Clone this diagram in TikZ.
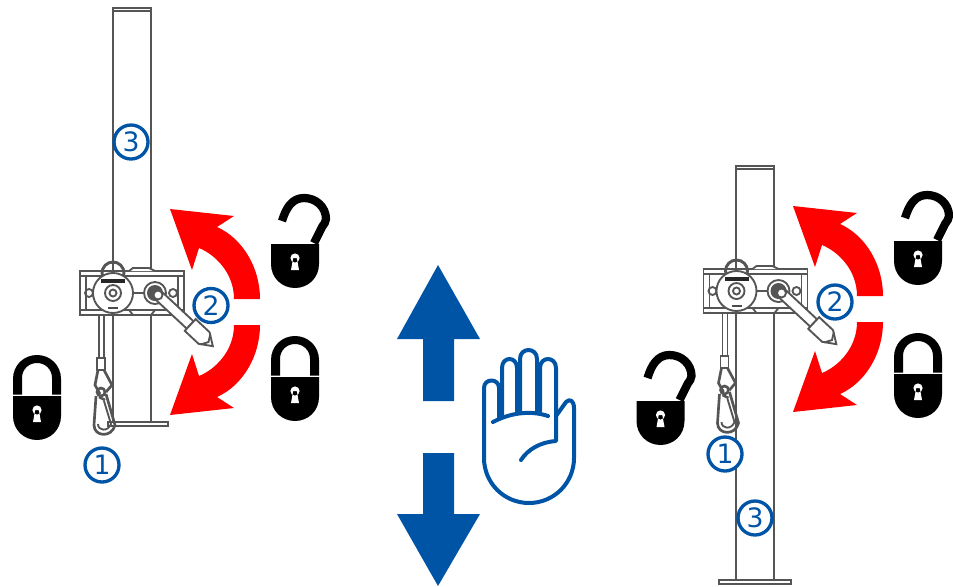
\documentclass[tikz,border=0pt]{standalone}
\usepackage{fontspec}
\setmainfont{DejaVu Sans}
\usepackage{xcolor}
\usepackage{tikz}
\definecolor{signblue}{RGB}{0,84,166}
\definecolor{steelgray}{RGB}{85,85,85}
\usetikzlibrary{positioning, arrows.meta}

\begin{document}
\begin{tikzpicture}[
    x=0.75pt, y=-0.75pt,
    steel/.style={draw=steelgray, line width=1.4pt},
    steelfill/.style={steel, fill=white},
    badge/.style={circle, draw=signblue, line width=2.5pt, fill=white, text=signblue, inner sep=0pt, minimum size=25.5pt, font=\fontsize{20}{20}\selectfont},
    handline/.style={draw=signblue, line width=3pt, line cap=round, line join=round},
    lockclosed/.pic={
        \fill[black, even odd rule] (-24,-1.5) -- (-24,-17) .. controls (-24,-31) and (-13,-41) .. (0,-41)
            .. controls (13,-41) and (24,-31) .. (24,-17) -- (24,-1.5) -- (15,-1.5) -- (15,-18)
            .. controls (15,-27) and (8,-33) .. (0,-33) .. controls (-8,-33) and (-15,-27) .. (-15,-18)
            -- (-15,-1.5) -- cycle;
        \fill[black] (-24,0) -- (24,0) -- (24,20) .. controls (24,34) and (13,44) .. (0,44)
            .. controls (-13,44) and (-24,34) .. (-24,20) -- cycle;
        \fill[white] (0,14) circle (4.6) (-1.8,14) -- (-4,26) -- (4,26) -- (1.8,14) -- cycle;
    },
    lockopen/.pic={
        \draw[black, line width=6.2pt] (19,-1) -- (27,-17) .. controls (29,-20) and (31,-22) .. (31,-25)
            .. controls (31,-37) and (21,-46) .. (9,-46) .. controls (-3,-46) and (-9,-36) .. (-13,-23);
        \fill[black] (-24,0) -- (24,0) -- (24,20) .. controls (24,34) and (13,44) .. (0,44)
            .. controls (-13,44) and (-24,34) .. (-24,20) -- cycle;
        \fill[white] (0,14) circle (4.6) (-1.8,14) -- (-4,26) -- (4,26) -- (1.8,14) -- cycle;
    },
    redturn/.pic={
        \foreach \flip in {1,-1} {
            \fill[red, yscale=\flip] (0,-13) .. controls (0,-45) and (-18,-74) .. (-43,-85) -- (-26,-96) -- (-90,-103)
                -- (-68,-42) -- (-61,-64) .. controls (-46,-58) and (-26,-40) .. (-26,-13) -- cycle;
        }
    },
    winchunit/.pic={
        % Cable and hook
        \draw[steel] (-14,20) -- (-14,65) (-9,20) -- (-9,65);
        \draw[steelfill] (-16,65) rectangle (-8,77);
        \draw[steel, line width=2pt] (-15,77) -- (-18,92) -- (-13,101) (-9,77) -- (-1,92) -- (-7,99);
        \draw[steel, line width=2pt] (-12,99) circle (4);
        \draw[steel, line width=2pt] (-17,103) -- (-19,132) .. controls (-19,144) and (-1,145) .. (2,132) -- (-7,101);
        \draw[steel] (-15,131) .. controls (-15,138) and (-5,139) .. (-2,131) -- (-9,108);
        \draw[steel, line width=2pt] (-14,104) -- (-8,107);
        % Bracket
        \draw[steelfill] (-33,-22) rectangle (71,22);
        \draw[steel] (-33,-17) -- (71,-17) (-33,17) -- (71,17);
        \draw[steel] (-27,-17) -- (-27,17) (65,-17) -- (65,17);
        \draw[steelfill] (16,-22) -- (20,-25) -- (36,-25) -- (42,-22);
        \draw[steel] (16,17) -- (20,22) (42,17) -- (38,22);
        \draw[steel] (-24,0) circle (4) (60,0) circle (4);
        \draw[steel] (20,0) -- (32,0);
        % Ring and disc
        \draw[steel, line width=2.2pt] (0,-20) circle (11);
        \draw[steelfill] (0,0) circle (20);
        \draw[steel] (0,0) circle (8) (0,0) circle (3.5);
        \fill[black!85] (-12,-14) rectangle (12,-10);
        \fill[black!70] (-5,14) rectangle (5,16);
        % Crank
        \draw[steelfill] (42,0) circle (11);
        \fill[steelgray] (42,0) circle (8);
        \draw[steelfill, rotate around={-43:(45,2)}] (45,-3) rectangle (89,7);
        \draw[steelfill, rotate around={-43:(45,2)}] (89,-6) -- (108,-6) -- (120,2) -- (108,10) -- (89,10) -- cycle;
        \draw[steel, rotate around={-43:(45,2)}] (110,-5) -- (114,2) -- (110,9);
        \draw[steelfill] (45,2) circle (4.5);
    }
]
    \useasboundingbox (0,0) rectangle (953,586);

    % Poles
    \draw[steel] (113,424) -- (113,8) -- (151,8) -- (151,424);
    \draw[steel] (113,11) -- (151,11);
    \draw[steelfill] (108,422) rectangle (168,426);
    \draw[steel] (736,582) -- (736,166) -- (774,166) -- (774,582);
    \draw[steel] (736,169) -- (774,169);
    \draw[steelfill] (719,580) rectangle (791,584);

    % Winches
    \pic at (113,293) {winchunit};
    \pic at (736.5,291) {winchunit};

    % Red arrows
    \pic at (260,312) {redturn};
    \pic at (883,309) {redturn};

    % Locks
    \pic at (37,396) {lockclosed};
    \pic at (295,377) {lockclosed};
    \pic at (918,374) {lockclosed};
    \pic at (295,244) {lockopen};
    \pic at (918,241) {lockopen};
    \pic at (660.5,401) {lockopen};

    % Numbers
    \node[badge] (n1l) at (102,465) {1};
    \node[badge] (n2l) at (211,305.5) {2};
    \node[badge] (n3l) at (131,142) {3};
    \node[badge] (n1r) at (725,454) {1};
    \node[badge] (n2r) at (835,302) {2};
    \node[badge] (n3r) at (755,518) {3};

    % Blue arrows
    \fill[signblue] (438,265) -- (480,339) -- (454,339) -- (454,401) -- (423,401) -- (423,339) -- (397,339) -- cycle;
    \fill[signblue] (438,586) -- (480,514) -- (454,514) -- (454,453) -- (423,453) -- (423,514) -- (397,514) -- cycle;

    % Hand
    \draw[handline] (484,458) -- (484,388) .. controls (484,378) and (499,378) .. (499,388) -- (499,417);
    \draw[handline] (502,416) -- (502,368) .. controls (502,356) and (517,356) .. (517,368) -- (517,411);
    \draw[handline] (520,411) -- (520,359) .. controls (520,347) and (537,347) .. (537,359) -- (537,411);
    \draw[handline] (540,411) -- (540,368) .. controls (540,356) and (556,356) .. (556,368) -- (556,441)
        .. controls (541,442) and (528,449) .. (521,460);
    \draw[handline] (493,422) .. controls (510,413) and (530,410) .. (548,416);
    \draw[handline] (556,416) -- (566,402) .. controls (570,398) and (574,401) .. (574,408) -- (574,458)
        .. controls (574,483) and (554,503) .. (529,503) .. controls (504,503) and (484,483) .. (484,458);
\end{tikzpicture}
\end{document}
